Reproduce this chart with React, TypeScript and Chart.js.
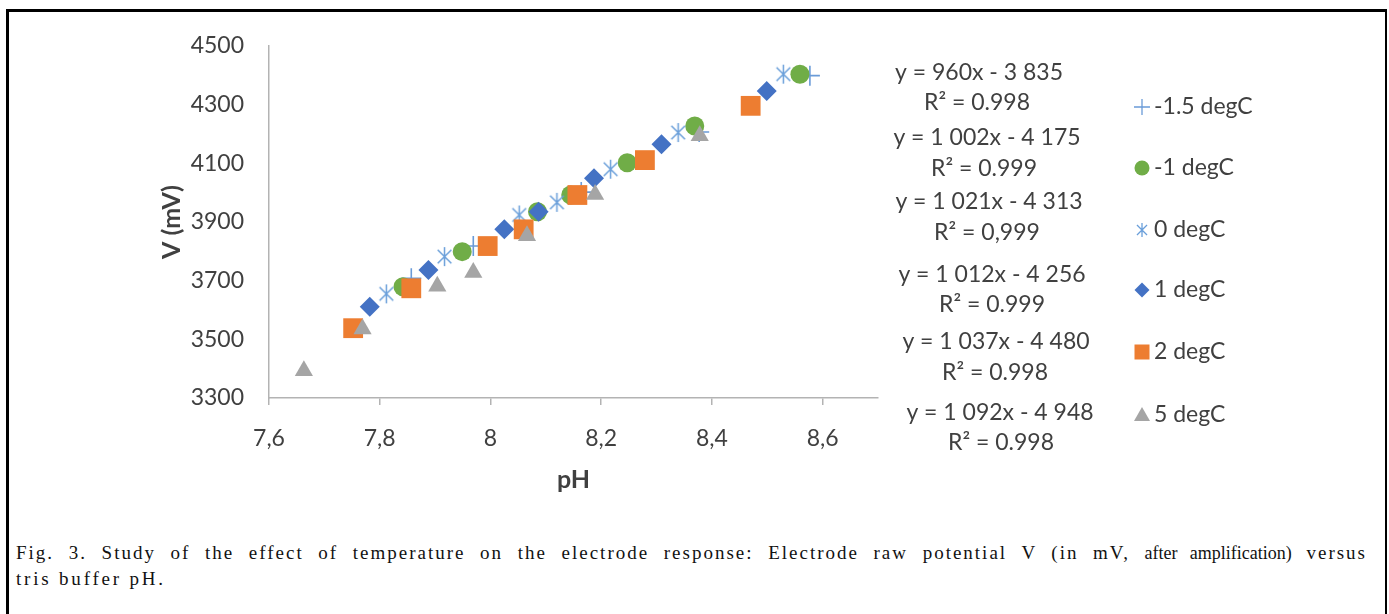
import React, { useEffect, useRef } from 'react';
import { Chart, registerables } from 'chart.js';

Chart.register(...registerables);

// ---------- data ----------
const seriesNames = ['-1.5 degC', '-1 degC', '0 degC', '1 degC', '2 degC', '5 degC'];

const phMinus15 = [7.857, 7.969, 8.164, 8.377, 8.577];
const vMinus15 = [3708, 3818, 4002, 4207, 4399];

const phMinus1 = [7.842, 7.949, 8.085, 8.145, 8.247, 8.369, 8.559];
const vMinus1 = [3679, 3799, 3935, 3992, 4102, 4227, 4404];

const phZero = [7.812, 7.917, 8.052, 8.12, 8.217, 8.339, 8.529];
const vZero = [3655, 3782, 3924, 3967, 4080, 4205, 4404];

const phPlus1 = [7.782, 7.888, 8.025, 8.087, 8.187, 8.309, 8.499];
const vPlus1 = [3611, 3736, 3875, 3935, 4049, 4165, 4347];

const phPlus2 = [7.752, 7.857, 7.995, 8.06, 8.157, 8.279, 8.47];
const vPlus2 = [3538, 3674, 3818, 3875, 3992, 4111, 4296];

const phPlus5 = [7.663, 7.769, 7.904, 7.969, 8.066, 8.189, 8.378];
const vPlus5 = [3393, 3535, 3681, 3728, 3853, 3994, 4194];

const trendEquations = [
  'y = 960x - 3 835',
  'y = 1 002x - 4 175',
  'y = 1 021x - 4 313',
  'y = 1 012x - 4 256',
  'y = 1 037x - 4 480',
  'y = 1 092x - 4 948',
];
const trendR2 = ['R² = 0.998', 'R² = 0.999', 'R² = 0,999', 'R² = 0.999', 'R² = 0.998', 'R² = 0.998'];

const xTickValues = [7.6, 7.8, 8.0, 8.2, 8.4, 8.6];
const xTickLabels = ['7,6', '7,8', '8', '8,2', '8,4', '8,6'];
const yTickValues = [3300, 3500, 3700, 3900, 4100, 4300, 4500];
const yTickLabels = ['3300', '3500', '3700', '3900', '4100', '4300', '4500'];

// ---------- layout / style ----------
const FONT = 'Lato, "Open Sans", sans-serif';
const TEXT = '#404040';
const colors = ['#6A9BD8', '#70AD47', '#6A9FDA', '#4472C4', '#ED7D31', '#A5A5A5'];
const eqPos = [[979, 73], [987, 138], [989, 202], [992, 275], [996, 342], [1000, 413]];
const r2Pos = [[977, 103], [984, 169], [987, 233], [992, 305], [995, 373], [1001, 443]];
const legendMarkerX = 1142;
const legendTextX = 1154;
const legendY = [107, 168, 230, 290, 352, 415];

function makeAsterisk(size: number, color: string, lw: number) {
  const c = document.createElement('canvas');
  c.width = size;
  c.height = size;
  const g = c.getContext('2d')!;
  g.strokeStyle = color;
  g.lineWidth = lw;
  const m = size / 2;
  const a = size / 2 - 1;
  const d = a * 0.72;
  g.beginPath();
  g.moveTo(m, m - a); g.lineTo(m, m + a);
  g.moveTo(m - d, m - d); g.lineTo(m + d, m + d);
  g.moveTo(m + d, m - d); g.lineTo(m - d, m + d);
  g.stroke();
  return c;
}

function drawMarker(ctx: CanvasRenderingContext2D, idx: number, x: number, y: number) {
  const col = colors[idx];
  ctx.save();
  ctx.fillStyle = col;
  ctx.strokeStyle = col;
  ctx.beginPath();
  if (idx === 0) {
    ctx.lineWidth = 1.3;
    ctx.moveTo(x - 8, y); ctx.lineTo(x + 8, y);
    ctx.moveTo(x, y - 8); ctx.lineTo(x, y + 8);
    ctx.stroke();
  } else if (idx === 1) {
    ctx.arc(x, y, 7.5, 0, Math.PI * 2);
    ctx.fill();
  } else if (idx === 2) {
    const img = makeAsterisk(16, col, 1.3);
    ctx.drawImage(img, x - 8, y - 8);
  } else if (idx === 3) {
    ctx.moveTo(x, y - 7.5); ctx.lineTo(x + 7.5, y); ctx.lineTo(x, y + 7.5); ctx.lineTo(x - 7.5, y);
    ctx.closePath();
    ctx.fill();
  } else if (idx === 4) {
    ctx.rect(x - 7.5, y - 7.5, 15, 15);
    ctx.fill();
  } else {
    ctx.moveTo(x, y - 8); ctx.lineTo(x + 8, y + 6); ctx.lineTo(x - 8, y + 6);
    ctx.closePath();
    ctx.fill();
  }
  ctx.restore();
}

const sidePanel = {
  id: 'sidePanel',
  afterDraw(chart: any) {
    const ctx: CanvasRenderingContext2D = chart.ctx;
    ctx.save();
    ctx.font = `23px ${FONT}`;
    ctx.fillStyle = TEXT;
    ctx.textBaseline = 'middle';
    for (let i = 0; i < seriesNames.length; i++) {
      ctx.textAlign = 'center';
      ctx.fillText(trendEquations[i], eqPos[i][0], eqPos[i][1]);
      ctx.fillText(trendR2[i], r2Pos[i][0], r2Pos[i][1]);
      drawMarker(ctx, i, legendMarkerX, legendY[i]);
      ctx.textAlign = 'left';
      ctx.fillText(seriesNames[i], legendTextX, legendY[i]);
    }
    ctx.restore();
  },
};

function pts(xs: number[], ys: number[]) {
  return xs.map((x, i) => ({ x, y: ys[i] }));
}

export default function App() {
  const ref = useRef<HTMLCanvasElement>(null);

  useEffect(() => {
    document.documentElement.style.overflow = 'hidden';
    const asterisk = makeAsterisk(21, colors[2], 1.5);
    const seriesData = [
      pts(phMinus15, vMinus15),
      pts(phMinus1, vMinus1),
      pts(phZero, vZero),
      pts(phPlus1, vPlus1),
      pts(phPlus2, vPlus2),
      pts(phPlus5, vPlus5),
    ];
    const styles: any[] = [
      { pointStyle: 'cross', pointRadius: 10, borderWidth: 1.6 },
      { pointStyle: 'circle', pointRadius: 9.5, borderWidth: 0 },
      { pointStyle: asterisk, pointRadius: 10, borderWidth: 0 },
      { pointStyle: 'rectRot', pointRadius: 10, borderWidth: 0 },
      { pointStyle: 'rect', pointRadius: 14, borderWidth: 0 },
      { pointStyle: 'triangle', pointRadius: 10.5, borderWidth: 0 },
    ];
    const datasets = seriesNames.map((name, i) => ({
      label: name,
      data: seriesData[i],
      showLine: false,
      backgroundColor: colors[i],
      borderColor: colors[i],
      pointBackgroundColor: colors[i],
      pointBorderColor: colors[i],
      pointBorderWidth: styles[i].borderWidth,
      pointStyle: styles[i].pointStyle,
      pointRadius: styles[i].pointRadius,
      pointHoverRadius: styles[i].pointRadius,
      order: seriesNames.length - 1 - i,
    }));

    const chart = new Chart(ref.current!, {
      type: 'scatter',
      data: { datasets },
      plugins: [sidePanel],
      options: {
        animation: false,
        responsive: true,
        maintainAspectRatio: false,
        layout: { padding: { left: 153, right: 511, top: 46, bottom: 21 } },
        plugins: { legend: { display: false }, tooltip: { enabled: false } },
        scales: {
          x: {
            type: 'linear',
            min: 7.6,
            max: 8.7,
            afterBuildTicks: (s: any) => {
              s.ticks = xTickValues.map((v) => ({ value: v }));
            },
            afterFit: (s: any) => {
              s.height = 101;
            },
            ticks: {
              callback: (_v: any, i: number) => xTickLabels[i],
              font: { family: FONT, size: 23 },
              color: TEXT,
              padding: 20,
              maxRotation: 0,
            },
            grid: { drawOnChartArea: false, drawTicks: true, tickLength: 7, color: '#b3b3b3', lineWidth: 1.5 },
            border: { display: true, color: '#b3b3b3', width: 1.5 },
            title: {
              display: true,
              text: 'pH',
              font: { family: FONT, size: 25, weight: 'bold' },
              color: TEXT,
              padding: { top: 4, bottom: 4 },
            },
          },
          y: {
            type: 'linear',
            min: 3300,
            max: 4500,
            afterBuildTicks: (s: any) => {
              s.ticks = yTickValues.map((v) => ({ value: v }));
            },
            afterFit: (s: any) => {
              s.width = 116;
            },
            ticks: {
              callback: (_v: any, i: number) => yTickLabels[i],
              font: { family: FONT, size: 23 },
              color: TEXT,
              padding: 25,
            },
            grid: { display: false, drawTicks: false },
            border: { display: true, color: '#b3b3b3', width: 1.5 },
            title: {
              display: true,
              text: 'V (mV)',
              font: { family: FONT, size: 25, weight: 'bold' },
              color: TEXT,
              padding: { top: 4, bottom: 4 },
            },
          },
        },
      },
    });
    return () => chart.destroy();
  }, []);

  return (
    <>
      <div
        style={{
          position: 'absolute',
          left: 6,
          top: 9,
          width: 1381,
          height: 605,
          boxSizing: 'border-box',
          borderTop: '3px solid #000',
          borderLeft: '3px solid #000',
          borderRight: '2px solid #000',
        }}
      />
      <div style={{ position: 'absolute', left: 0, top: 0, width: 1389, height: 520 }}>
        <canvas ref={ref} />
      </div>
      <div
        style={{
          position: 'absolute',
          left: 16,
          top: 540,
          width: 1351,
          fontFamily: '"Liberation Serif", "Times New Roman", serif',
          fontSize: 19,
          lineHeight: '25px',
          color: '#111',
        }}
      >
        <div style={{ textAlign: 'justify', textAlignLast: 'justify', letterSpacing: '2px' }}>
          Fig. 3. Study of the effect of temperature on the electrode response: Electrode raw potential V (in mV,{' '}
          <span style={{ letterSpacing: '0px', fontSize: 18 }}>after amplification)</span> versus
        </div>
        <div style={{ letterSpacing: '2.8px' }}>tris buffer pH.</div>
      </div>
    </>
  );
}
